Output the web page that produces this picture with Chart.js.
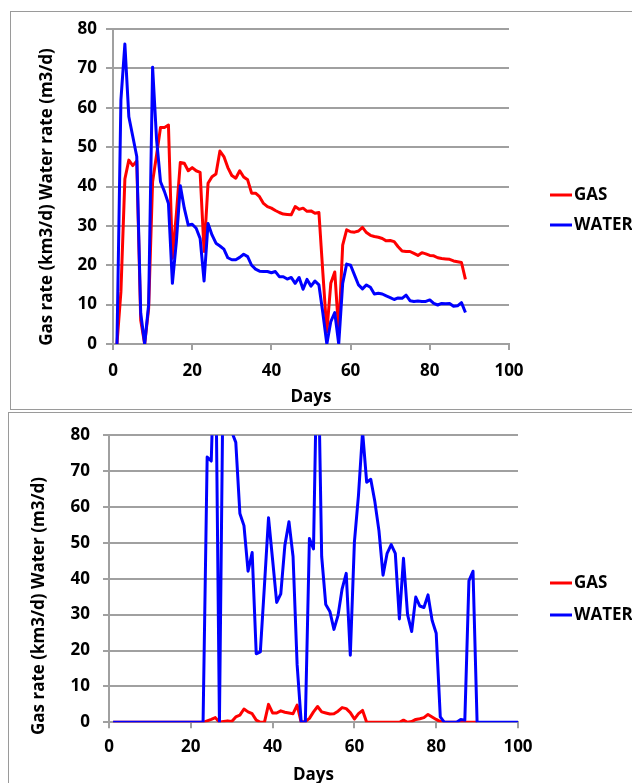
<!DOCTYPE html>
<html>
<head>
<meta charset="utf-8">
<script src="https://cdn.jsdelivr.net/npm/chart.js@4.4.0/dist/chart.umd.min.js"></script>
<style>
  html, body { margin: 0; padding: 0; background: #fff; width: 632px; height: 783px; overflow: hidden; }
  .frame { position: absolute; border: 1px solid #9a9a9a; box-sizing: border-box; }
  #frameTop { left: 10px; top: 11px; width: 640px; height: 399px; }
  #frameBottom { left: 8px; top: 412px; width: 640px; height: 400px; }
  canvas { position: absolute; left: 0; }
  #ratesFirst { top: 0; }
  #ratesSecond { top: 412px; }
</style>
</head>
<body>
<div class="frame" id="frameTop"></div>
<div class="frame" id="frameBottom"></div>
<canvas id="ratesFirst" width="632" height="409"></canvas>
<canvas id="ratesSecond" width="632" height="390"></canvas>
<script>
// first period, days 1-89
let firstDays = Array.from({length: 89}, (_, i) => i + 1)

let firstGas = [0, 13.3, 41.9, 46.7, 45.3, 46.5, 6, 0, 9, 41.2,
    48, 55, 55, 55.6, 21.8, 33, 46.1, 45.9, 44, 44.8,
    44, 43.6, 23.5, 40.8, 42.5, 43.2, 49, 47.6, 44.8, 42.8,
    42.1, 44, 42.4, 41.7, 38.3, 38.3, 37.4, 35.7, 34.9, 34.5,
    33.9, 33.4, 33, 32.9, 32.8, 34.9, 34.2, 34.5, 33.7, 33.8,
    33.2, 33.4, 18, 3.1, 15.4, 18.3, 3.1, 25.1, 29, 28.5,
    28.4, 28.7, 29.6, 28.3, 27.6, 27.3, 27.1, 26.8, 26.2, 26.3,
    26, 24.7, 23.6, 23.5, 23.5, 23, 22.5, 23.2, 22.9, 22.5,
    22.4, 21.9, 21.7, 21.6, 21.5, 21.1, 20.9, 20.7, 16.4]

let firstWater = [0, 62, 76.2, 57.7, 52.7, 47.6, 7.8, 0, 10, 70.3,
    52, 41.2, 38.7, 35.7, 15.4, 26, 40.2, 34.5, 30.2, 30.4,
    29.4, 26.8, 16, 30.6, 27.7, 25.6, 24.9, 24.1, 21.9, 21.4,
    21.4, 22, 22.8, 22.2, 20, 19, 18.5, 18.4, 18.4, 18.1,
    18.4, 17.1, 17.1, 16.5, 16.9, 15.4, 16.9, 13.9, 16.4, 14.7,
    16, 15, 7.8, 0, 5.7, 8, 0, 15.4, 20.3, 20,
    17.5, 15, 14, 15, 14.4, 12.7, 12.9, 12.7, 12.2, 11.8,
    11.3, 11.7, 11.6, 12.4, 11, 10.8, 10.9, 10.8, 10.8, 11.2,
    10.3, 9.9, 10.3, 10.2, 10.3, 9.6, 9.7, 10.5, 8]

// second period, days 1-100 (gas stops after day 90)
let secondDays = Array.from({length: 100}, (_, i) => i + 1)

let secondGas = [0, 0, 0, 0, 0, 0, 0, 0, 0, 0,
    0, 0, 0, 0, 0, 0, 0, 0, 0, 0,
    0, 0, 0, 0.4, 0.8, 1.3, 0, 0.2, 0.4, 0.2,
    1.5, 2, 3.7, 2.9, 2.4, 0.6, 0, 0, 5, 2.6,
    2.6, 3.2, 2.8, 2.6, 2.4, 4.8, 0, 0.2, 1.1, 2.9,
    4.4, 2.9, 2.6, 2.3, 2.4, 3.1, 4.1, 3.8, 2.7, 0.9,
    2.4, 3.3, 0, 0, 0, 0, 0, 0, 0, 0,
    0, 0.6, 0, 0.2, 0.8, 1, 1.3, 2.2, 1.5, 0.8,
    0.2, 0, 0, 0, 0, 0, 0, 0, 0, 0]

let secondWater = [0, 0, 0, 0, 0, 0, 0, 0, 0, 0,
    0, 0, 0, 0, 0, 0, 0, 0, 0, 0,
    0, 0, 0, 73.9, 72.8, 112, 0, 108, 92, 81,
    78, 58.2, 54.8, 42.1, 47.3, 19.1, 19.6, 38, 57, 45.3,
    33.4, 35.8, 49.3, 55.9, 46.2, 16, 0, 0, 51.2, 48.3,
    112, 46.2, 32.8, 30.9, 25.9, 29.8, 37.2, 41.5, 18.7, 50.2,
    63.3, 81, 66.9, 67.7, 61.5, 53.4, 41, 47.1, 49.5, 47.1,
    28.8, 45.7, 30, 25.3, 34.9, 32.4, 32, 35.5, 28.4, 24.8,
    1.5, 0, 0, 0, 0, 0.8, 0.6, 39.4, 42.1, 0,
    0, 0, 0, 0, 0, 0, 0, 0, 0, 0]

let xTicks = [0, 20, 40, 60, 80, 100]
let yTicks = [0, 10, 20, 30, 40, 50, 60, 70, 80]

const gridColor = '#a0a0a0'
const fontFamily = '"Open Sans", sans-serif'

let pairs = function(days, values) {
    return values.map((v, i) => ({ x: days[i], y: v }))
}

// rotated y title and the legend on the right are drawn here
const sideLabels = {
    id: 'sideLabels',
    afterDraw(chart, args, opts) {
        const ctx = chart.ctx
        ctx.save()
        ctx.fillStyle = '#000'
        ctx.font = 'bold 17px ' + fontFamily
        ctx.textAlign = 'center'
        ctx.textBaseline = 'middle'
        ctx.translate(opts.titleX, opts.titleY)
        ctx.rotate(-Math.PI / 2)
        ctx.fillText(opts.title, 0, 0)
        ctx.restore()

        ctx.save()
        ctx.font = 'bold 17px ' + fontFamily
        ctx.textAlign = 'left'
        ctx.textBaseline = 'middle'
        chart.data.datasets.forEach((ds, i) => {
            let y = opts.legendY[i]
            ctx.strokeStyle = ds.borderColor
            ctx.lineWidth = 3
            ctx.beginPath()
            ctx.moveTo(opts.legendX, y)
            ctx.lineTo(opts.legendX + 22, y)
            ctx.stroke()
            ctx.fillStyle = '#000'
            ctx.fillText(ds.label, opts.legendX + 24, y)
        })
        ctx.restore()
    }
}

let makeChart = function(canvasId, days, gas, water, s) {
    return new Chart(document.getElementById(canvasId), {
        type: 'line',
        data: {
            datasets: [
                {
                    label: 'GAS',
                    data: pairs(days, gas),
                    borderColor: '#ff0000',
                    borderWidth: 3,
                    pointRadius: 0,
                    tension: 0,
                    borderJoinStyle: 'round',
                    order: 2
                },
                {
                    label: 'WATER',
                    data: pairs(days, water),
                    borderColor: '#0000ff',
                    borderWidth: 3,
                    pointRadius: 0,
                    tension: 0,
                    borderJoinStyle: 'round',
                    order: 1
                }
            ]
        },
        options: {
            responsive: false,
            animation: false,
            devicePixelRatio: 1,
            layout: { padding: { left: 0, top: s.top, right: s.right, bottom: 0 } },
            plugins: {
                legend: { display: false },
                tooltip: { enabled: false },
                sideLabels: s.side
            },
            scales: {
                x: {
                    type: 'linear',
                    min: xTicks[0],
                    max: xTicks[xTicks.length - 1],
                    afterFit: scale => { scale.height = s.xHeight },
                    afterBuildTicks: scale => { scale.ticks = xTicks.map(v => ({ value: v })) },
                    ticks: { padding: s.xPad, color: '#000', font: { family: fontFamily, size: 17, weight: 'bold' } },
                    grid: { drawOnChartArea: false, tickLength: 6, color: gridColor, lineWidth: 2 },
                    border: { color: gridColor, width: 2 },
                    title: {
                        display: true,
                        text: 'Days',
                        color: '#000',
                        font: { family: fontFamily, size: 17, weight: 'bold' },
                        padding: { top: 0, bottom: s.titlePad }
                    }
                },
                y: {
                    min: yTicks[0],
                    max: yTicks[yTicks.length - 1],
                    afterFit: scale => { scale.width = s.yWidth },
                    afterBuildTicks: scale => { scale.ticks = yTicks.map(v => ({ value: v })) },
                    ticks: { padding: s.yPad, color: '#000', font: { family: fontFamily, size: 17, weight: 'bold' } },
                    grid: { tickLength: s.yTick, color: gridColor, lineWidth: 2 },
                    border: { color: gridColor, width: 2 }
                }
            }
        },
        plugins: [sideLabels]
    })
}

makeChart('ratesFirst', firstDays, firstGas, firstWater, {
    top: 29, right: 123, xHeight: 65, yWidth: 113,
    xPad: 11, yPad: 9, yTick: 7, titlePad: 2,
    side: { title: 'Gas rate (km3/d) Water rate (m3/d)', titleX: 47, titleY: 197, legendX: 550, legendY: [195, 225] }
})

makeChart('ratesSecond', secondDays, secondGas, secondWater, {
    top: 14.7, right: 114, xHeight: 79.7, yWidth: 109,
    xPad: 9, yPad: 13, yTick: 6, titlePad: 17,
    side: { title: 'Gas rate (km3/d) Water (m3/d)', titleX: 39, titleY: 194, legendX: 550, legendY: [171, 203] }
})
</script>
</body>
</html>
